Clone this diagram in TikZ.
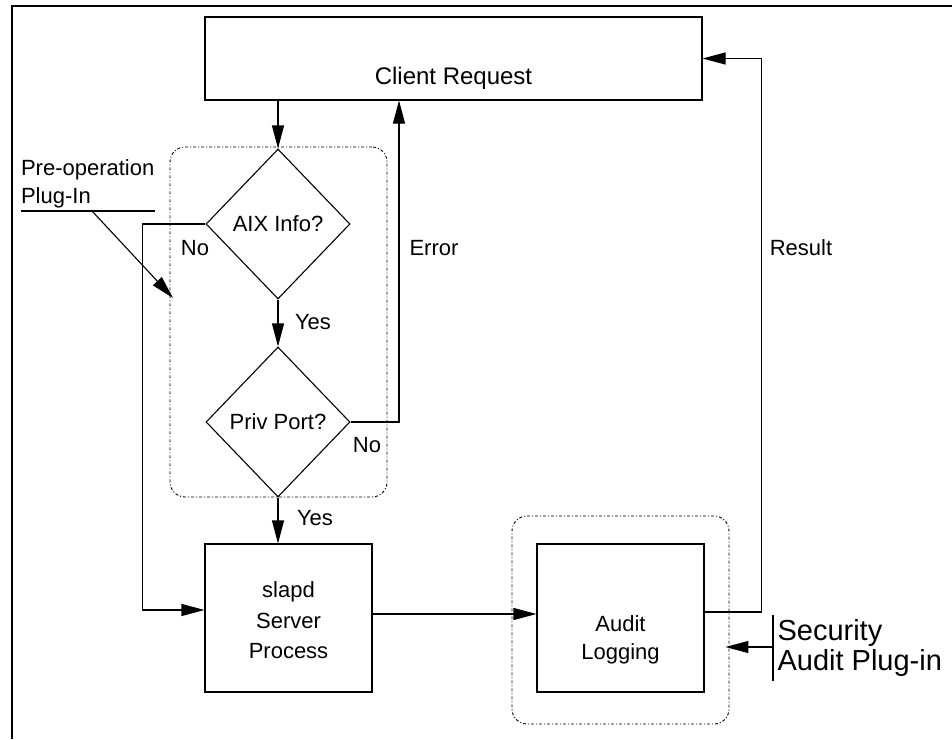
\documentclass[tikz,border=0pt]{standalone}
\usepackage{fontspec}
\setmainfont{Liberation Sans}
\usetikzlibrary{arrows.meta,shapes.geometric,calc}
\begin{document}
\begin{tikzpicture}[x=1pt,y=-1pt,
  line width=1.1pt,
  lbl/.style={font=\fontsize{22}{30}\selectfont, inner sep=0pt},
  boxnode/.style={draw, rectangle, inner sep=0pt},
  decision/.style={draw, diamond, inner sep=0pt, aspect=0.96,
    minimum width=144pt, minimum height=150pt, font=\fontsize{22}{26}\selectfont},
  grp/.style={draw, rectangle, rounded corners=15pt, line width=0.9pt,
    dash pattern=on 3pt off 2pt on 1pt off 2pt},
  arr/.style={-{Triangle[length=23pt,width=12pt]}},
]
\useasboundingbox (0,0) rectangle (952,739);
% frame
\draw (12,739) -- (12,6) -- (952,6);

% groups
\node[grp, minimum width=217pt, minimum height=350pt] (grp1) at (278.5,322) {};
\node[grp, minimum width=217pt, minimum height=208pt] (grp2) at (620.5,620) {};

% main nodes
\node[boxnode, minimum width=497pt, minimum height=83pt,
  label={[lbl, font=\fontsize{24}{28}\selectfont, yshift=-20pt]center:Client Request}]
  (client) at (453.5,58.5) {};
\node[decision] (aix) at (278,224) {AIX Info?};
\node[decision] (priv) at (278,422) {Priv Port?};
\node[boxnode, minimum width=167pt, minimum height=148pt,
  label={[lbl, align=center, font=\fontsize{22}{30.5}\selectfont, yshift=-2.5pt]center:slapd\\Server\\Process}]
  (slapd) at (288.5,618) {};
\node[boxnode, minimum width=167pt, minimum height=148pt,
  label={[lbl, align=center, font=\fontsize{22}{28}\selectfont, yshift=-22pt]center:Audit\\Logging}]
  (audit) at (620.5,618) {};

% edge labels
\node[lbl] (noA) at (195,248) {No};
\node[lbl] (yesA) at (313,322) {Yes};
\node[lbl] (err) at (434,248) {Error};
\node[lbl] (noP) at (367,445) {No};
\node[lbl] (yesP) at (315,518) {Yes};
\node[lbl] (res) at (801,248) {Result};

% plug-in labels
\node[lbl, align=left, anchor=north west, font=\fontsize{22}{28}\selectfont]
  (preop) at (20.5,159) {Pre-operation\\Plug-In};
\coordinate (pu1) at (21,211);
\coordinate (pu2) at (155,211);
\coordinate (pustart) at (92,211);
\coordinate (putip) at (173,298);
\draw (pu1) -- (pu2);
\draw[arr] (pustart) -- (putip);

\node[lbl, align=left, anchor=north west, font=\fontsize{29}{30}\selectfont]
  (secaud) at (777,619) {Security\\Audit Plug-in};
\coordinate (sectop) at (773,615);
\coordinate (secbot) at (773,681);
\coordinate (secmid) at (773,647);
\draw (sectop) -- (secbot);
\draw[arr] (secmid) -- ([xshift=-4pt]secmid -| grp2.east);

% connectors
\draw[arr] (aix.north |- client.south) -- (aix.north);
\draw[arr] (aix.south) -- (priv.north);
\draw[arr] (priv.south) -- (priv.south |- slapd.north);
\draw[arr] (aix.west) -- ++(-63,0) |- ([yshift=8pt]slapd.west);
\draw[arr] (priv.east) -| ([xshift=-54.5pt]client.south);
\draw[arr] ([yshift=4pt]slapd.east) -- ([yshift=4pt]audit.west);
\draw[arr] ([yshift=6pt]audit.east) -| ([xshift=59pt]client.east) -- (client.east);
\end{tikzpicture}
\end{document}
